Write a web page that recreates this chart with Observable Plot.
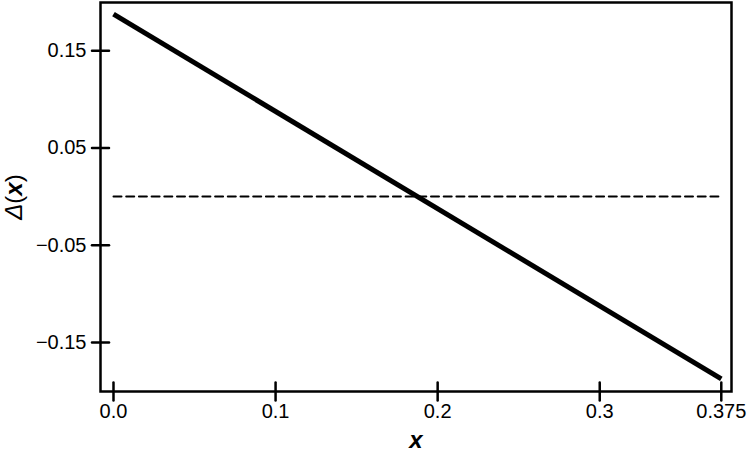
<!DOCTYPE html>
<html>
<head>
<meta charset="utf-8">
<script src="https://cdn.jsdelivr.net/npm/d3@7"></script>
<script src="https://cdn.jsdelivr.net/npm/@observablehq/plot@0.6"></script>
<style>
  html, body { margin: 0; padding: 0; background: #fff; }
  #chart svg { display: block; }
</style>
</head>
<body>
<div id="chart"></div>
<script>
// Data
const xs = [0, 0.375];
const delta = [0.1875, -0.1875];
const zeroX = [0, 0.375];
const zeroY = [0, 0];
const xTicks = [0, 0.1, 0.2, 0.3, 0.375];
const xTickLabels = ["0.0", "0.1", "0.2", "0.3", "0.375"];
const yTicks = [0.15, 0.05, -0.05, -0.15];
const yTickLabels = ["0.15", "0.05", "\u22120.05", "\u22120.15"];
const xLabel = "x";
const yLabel = "\u0394(x)";

const lineData = xs.map((x, i) => ({x, y: delta[i]}));
const zeroData = zeroX.map((x, i) => ({x, y: zeroY[i]}));

const tickShape = {
  draw(context, l) { context.moveTo(0, 0); context.lineTo(0, -l); }
};

const font = "'Liberation Sans', Arial, Helvetica, sans-serif";

const plot = Plot.plot({
  width: 747,
  height: 458,
  marginLeft: 100,
  marginRight: 16,
  marginTop: 2,
  marginBottom: 67,
  style: {fontFamily: font, fontSize: "20px", background: "#fff", color: "#000"},
  x: {domain: [-0.00802, 0.3813]},
  y: {domain: [-0.2005, 0.1995]},
  marks: [
    Plot.line(zeroData, {x: "x", y: "y", stroke: "#000", strokeWidth: 2, strokeDasharray: "8,4.7"}),
    Plot.line(lineData, {x: "x", y: "y", stroke: "#000", strokeWidth: 5, strokeLinecap: "butt"}),
    Plot.frame({stroke: "#000", strokeWidth: 2.5}),
    Plot.vectorX(xTicks, {frameAnchor: "bottom", length: 18, anchor: "middle", shape: tickShape, stroke: "#000", strokeWidth: 2.5}),
    Plot.vectorY(yTicks, {frameAnchor: "left", length: 17, anchor: "middle", rotate: 90, shape: tickShape, stroke: "#000", strokeWidth: 2.5}),
    Plot.axisX(xTicks, {tickSize: 0, tickPadding: 12, tickFormat: d => xTickLabels[xTicks.indexOf(d)], label: null, fontSize: 20}),
    Plot.axisY(yTicks, {tickSize: 0, tickPadding: 14, tickFormat: d => yTickLabels[yTicks.indexOf(d)], label: null, fontSize: 20}),
    Plot.text([xLabel], {text: d => d, frameAnchor: "bottom", dy: 49, lineAnchor: "middle", fontSize: 24, fontStyle: "italic", fontWeight: "bold", className: "xlab"}),
    Plot.text([yLabel], {text: d => d, frameAnchor: "left", dx: -86, rotate: -90, lineAnchor: "middle", textAnchor: "middle", fontSize: 24, className: "ylab"})
  ]
});

document.getElementById("chart").appendChild(plot);

// Mixed styling of the y label: italic Δ, upright parentheses, bold italic x
d3.select(plot).selectAll("g.ylab text").each(function() {
  const t = d3.select(this);
  t.text(null);
  t.append("tspan").attr("font-style", "italic").text("\u0394");
  t.append("tspan").text("(");
  t.append("tspan").attr("font-style", "italic").attr("font-weight", "bold").text("x");
  t.append("tspan").text(")");
});
</script>
</body>
</html>
